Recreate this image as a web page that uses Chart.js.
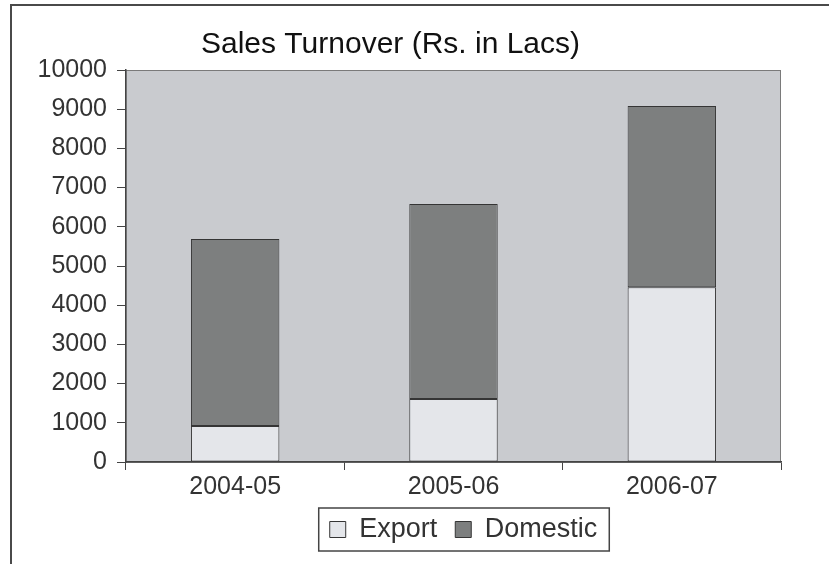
<!DOCTYPE html>
<html>
<head>
<meta charset="utf-8">
<title>Sales Turnover</title>
<script src="https://cdn.jsdelivr.net/npm/chart.js@4.4.1/dist/chart.umd.min.js"></script>
<style>
  html, body { margin: 0; padding: 0; background: #ffffff; }
  #wrap { position: relative; width: 829px; height: 564px; }
</style>
</head>
<body>
<div id="wrap"><canvas id="salesChart"></canvas></div>
<script>
// dati del grafico (Rs. in Lacs)
const years = ['2004-05', '2005-06', '2006-07'];
const exportSales = [920, 1610, 4460];
const domesticSales = [4770, 4970, 4620];
const yTicks = [0, 1000, 2000, 3000, 4000, 5000, 6000, 7000, 8000, 9000, 10000];

const INK = '#333333';
const FONT = '"Liberation Sans", Arial, sans-serif';

// sfondo pagina, cornice esterna e area del grafico grigia
const framePlugin = {
    id: 'frame',
    afterLayout(chart) {
        // legenda centrata sotto l'area del grafico, non sull'intera tela
        const lg = chart.legend, a = chart.chartArea;
        if (!lg) return;
        lg.left = a.left + 10;
        lg.right = a.right + 10;
    },
    beforeDraw(chart) {
        const { ctx, chartArea: a, width, height } = chart;
        ctx.save();
        ctx.fillStyle = '#ffffff';
        ctx.fillRect(0, 0, width, height);
        ctx.strokeStyle = '#4a4a4a';
        ctx.lineWidth = 2;
        ctx.beginPath();
        ctx.moveTo(11, height);
        ctx.lineTo(11, 5);
        ctx.lineTo(width, 5);
        ctx.stroke();
        ctx.fillStyle = '#c9cbcf';
        ctx.fillRect(a.left, a.top, a.right - a.left, a.bottom - a.top);
        ctx.strokeStyle = '#7a7a7a';
        ctx.lineWidth = 1;
        ctx.strokeRect(a.left, a.top + 0.5, a.right - a.left - 0.5, a.bottom - a.top);
        ctx.restore();
    },
    afterDraw(chart) {
        // riquadro attorno alla legenda
        const boxes = chart.legend.legendHitBoxes;
        if (!boxes || !boxes.length) return;
        const left = Math.min(...boxes.map(b => b.left)) - 11;
        const right = Math.max(...boxes.map(b => b.left + b.width)) + 12;
        const top = Math.min(...boxes.map(b => b.top)) - 8;
        const bottom = Math.max(...boxes.map(b => b.top + b.height)) + 8;
        const ctx = chart.ctx;
        ctx.save();
        ctx.strokeStyle = '#444444';
        ctx.lineWidth = 1.5;
        ctx.strokeRect(left, top, right - left, bottom - top);
        ctx.restore();
    }
};

const ctx = document.getElementById('salesChart').getContext('2d');
const myChart = new Chart(ctx, {
    type: 'bar',
    data: {
        labels: years,
        datasets: [
            {
                label: 'Export',
                data: exportSales,
                backgroundColor: '#e4e6ea',
                borderColor: '#353535',
                borderWidth: 1,
                borderSkipped: false
            },
            {
                label: 'Domestic',
                data: domesticSales,
                backgroundColor: '#7d7f7f',
                borderColor: '#353535',
                borderWidth: 1,
                borderSkipped: false
            }
        ]
    },
    options: {
        responsive: true,
        maintainAspectRatio: false,
        animation: false,
        layout: { padding: { left: 0, right: 48, top: 0, bottom: 11 } },
        datasets: { bar: { categoryPercentage: 1, barPercentage: 0.405 } },
        scales: {
            x: {
                stacked: true,
                afterFit: s => { s.height = 36; },
                grid: { offset: true, drawOnChartArea: false, tickLength: 8, color: '#444444' },
                border: { display: true, color: '#444444', width: 1.5 },
                ticks: { color: INK, font: { family: FONT, size: 25 }, padding: 2 }
            },
            y: {
                stacked: true,
                min: 0,
                max: 10000,
                afterFit: s => { s.width = 126; },
                afterBuildTicks: s => { s.ticks = yTicks.map(v => ({ value: v })); },
                grid: { drawOnChartArea: false, tickLength: 9, color: '#444444' },
                border: { display: true, color: '#444444', width: 1.5 },
                ticks: {
                    color: INK,
                    font: { family: FONT, size: 25 },
                    padding: 10,
                    callback: v => String(v)
                }
            }
        },
        plugins: {
            title: {
                display: true,
                text: 'Sales Turnover (Rs. in Lacs)',
                color: '#111111',
                font: { family: FONT, size: 30, weight: 'normal' },
                padding: { top: 27, bottom: 7 }
            },
            legend: {
                position: 'bottom',
                labels: {
                    color: INK,
                    font: { family: FONT, size: 27 },
                    boxWidth: 16,
                    boxHeight: 16,
                    padding: 18
                }
            },
            tooltip: { enabled: false }
        }
    },
    plugins: [framePlugin]
});
</script>
</body>
</html>
